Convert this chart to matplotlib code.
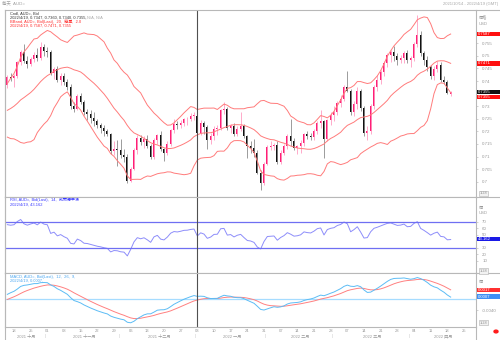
import numpy as np
import pandas as pd
import matplotlib
matplotlib.use("Agg")
import matplotlib.pyplot as plt
from matplotlib.patches import Rectangle, Circle
from matplotlib.lines import Line2D
from matplotlib.transforms import blended_transform_factory

plt.rcParams['font.family'] = ['Liberation Sans', 'Noto Sans CJK TC']

# AUD= daily bars, 2021/10/14 .. 2022/4/19
dates = pd.bdate_range('2021-10-14', '2022-04-19')
opens = [.7385, .7417, .7412, .7420, .7475, .7517, .7480, .7468, .7488, .7505,
         .7490, .7537, .7520, .7515, .7432, .7448, .7405, .7420, .7395, .7375,
         .7300, .7290, .7340, .7318, .7275, .7270, .7255, .7240, .7225, .7215,
         .7200, .7190, .7120, .7130, .7125, .7105, .7098, .7002, .7052, .7125,
         .7175, .7158, .7170, .7140, .7100, .7165, .7185, .7128, .7115, .7150,
         .7205, .7230, .7225, .7235, .7248, .7250, .7260, .7262, .7195, .7232,
         .7218, .7166, .7180, .7210, .7212, .7283, .7288, .7213, .7220, .7190,
         .7210, .7220, .7182, .7142, .7135, .7115, .7035, .6995, .7072, .7138,
         .7142, .7145, .7080, .7115, .7140, .7183, .7162, .7135, .7140, .7152,
         .7190, .7182, .7178, .7200, .7233, .7242, .7170, .7245, .7265, .7275,
         .7312, .7330, .7378, .7362, .7275, .7310, .7362, .7292, .7193, .7200,
         .7302, .7378, .7404, .7437, .7470, .7503, .7515, .7500, .7485, .7492,
         .7512, .7484, .7490, .7548, .7585, .7510, .7485, .7455, .7420, .7448,
         .7465, .7405, .7398, .7347]
highs = [.7425, .7432, .7428, .7480, .7522, .7546, .7500, .7495, .7515, .7530,
         .7556, .7546, .7535, .7525, .7455, .7460, .7430, .7430, .7410, .7390,
         .7318, .7348, .7352, .7325, .7290, .7285, .7275, .7250, .7235, .7225,
         .7210, .7195, .7160, .7165, .7170, .7130, .7110, .7060, .7135, .7185,
         .7187, .7180, .7185, .7150, .7175, .7190, .7200, .7135, .7160, .7210,
         .7250, .7240, .7245, .7255, .7258, .7272, .7277, .7277, .7245, .7240,
         .7225, .7195, .7220, .7225, .7290, .7316, .7295, .7230, .7232, .7220,
         .7277, .7230, .7185, .7160, .7170, .7125, .7045, .7080, .7145, .7160,
         .7155, .7160, .7125, .7150, .7190, .7250, .7175, .7145, .7165, .7195,
         .7200, .7195, .7210, .7240, .7285, .7245, .7250, .7275, .7300, .7320,
         .7345, .7385, .7441, .7370, .7320, .7375, .7370, .7300, .7220, .7310,
         .7385, .7425, .7445, .7478, .7510, .7525, .7540, .7510, .7505, .7520,
         .7525, .7500, .7555, .7661, .7600, .7520, .7500, .7465, .7460, .7480,
         .7475, .7420, .7405, .7360]
lows = [.7372, .7400, .7378, .7412, .7465, .7470, .7453, .7460, .7475, .7480,
        .7485, .7500, .7495, .7425, .7410, .7395, .7385, .7385, .7365, .7290,
        .7277, .7285, .7310, .7265, .7245, .7235, .7220, .7215, .7195, .7180,
        .7180, .7110, .7105, .7062, .7095, .7080, .6993, .6998, .7045, .7110,
        .7145, .7135, .7135, .7090, .7090, .7150, .7120, .7082, .7105, .7140,
        .7195, .7210, .7212, .7220, .7225, .7240, .7245, .7188, .7185, .7190,
        .7130, .7150, .7165, .7185, .7205, .7270, .7205, .7195, .7180, .7180,
        .7200, .7175, .7094, .7115, .7100, .7030, .6968, .6985, .7065, .7125,
        .7125, .7070, .7070, .7105, .7130, .7140, .7125, .7110, .7115, .7140,
        .7170, .7165, .7165, .7190, .7215, .7094, .7160, .7225, .7240, .7265,
        .7295, .7320, .7355, .7265, .7260, .7290, .7280, .7180, .7165, .7190,
        .7290, .7360, .7390, .7420, .7455, .7475, .7480, .7465, .7470, .7470,
        .7470, .7455, .7480, .7535, .7500, .7465, .7440, .7410, .7405, .7435,
        .7395, .7390, .7350, .7340]
closes = [.7417, .7412, .7420, .7475, .7517, .7480, .7468, .7488, .7505, .7490,
          .7537, .7520, .7515, .7432, .7448, .7405, .7420, .7395, .7375, .7300,
          .7290, .7340, .7318, .7275, .7270, .7255, .7240, .7225, .7215, .7200,
          .7190, .7120, .7130, .7125, .7105, .7098, .7002, .7052, .7125, .7175,
          .7158, .7170, .7140, .7100, .7165, .7185, .7128, .7115, .7150, .7205,
          .7230, .7225, .7235, .7248, .7250, .7260, .7265, .7195, .7232, .7218,
          .7166, .7180, .7210, .7212, .7283, .7288, .7213, .7220, .7190, .7210,
          .7220, .7182, .7142, .7135, .7115, .7035, .6995, .7072, .7138, .7142,
          .7145, .7080, .7115, .7140, .7183, .7162, .7135, .7140, .7152, .7190,
          .7182, .7178, .7200, .7233, .7242, .7170, .7245, .7265, .7275, .7312,
          .7330, .7378, .7362, .7275, .7310, .7362, .7292, .7193, .7200, .7302,
          .7378, .7404, .7437, .7470, .7503, .7515, .7500, .7485, .7492, .7512,
          .7484, .7490, .7548, .7585, .7510, .7485, .7455, .7420, .7448, .7465,
          .7405, .7398, .7352, .7355]
# closes before the window, needed to warm up the indicators
prior_closes = [.7355, .7385, .7390, .7390, .7345, .7340, .7330, .7350, .7345, .7345,
                .7330, .7245, .7215, .7150, .7130, .7180, .7240, .7265, .7250, .7300,
                .7300, .7310, .7340, .7375, .7435, .7430, .7390, .7380, .7380, .7360,
                .7345, .7335, .7330, .7300, .7265, .7240, .7245, .7245, .7295, .7265,
                .7290, .7250, .7180, .7230, .7265, .7300, .7275, .7255, .7290, .7300,
                .7340, .7340, .7385]

month_names = ['一月', '二月', '三月', '四月', '五月', '六月',
               '七月', '八月', '九月', '十月', '十一月', '十二月']
price_ticks = [0.70, 0.705, 0.71, 0.715, 0.72, 0.725, 0.73, 0.74, 0.745, 0.75, 0.755]
rsi_ticks = [10, 20, 30, 50, 60, 70]

# indicators
c = pd.Series(prior_closes + closes)
n0 = len(prior_closes)
mid = c.rolling(20).mean()
sd = c.rolling(20).std(ddof=0)
bb_up = (mid + 2 * sd).values[n0:]
bb_mid = mid.values[n0:]
bb_lo = (mid - 2 * sd).values[n0:]
d = c.diff()
g = d.clip(lower=0).ewm(alpha=1 / 14, adjust=False).mean()
l = (-d.clip(upper=0)).ewm(alpha=1 / 14, adjust=False).mean()
rsi = (100 - 100 / (1 + g / l)).values[n0:]
macd_s = c.ewm(span=12, adjust=False).mean() - c.ewm(span=26, adjust=False).mean()
sig_s = macd_s.ewm(span=9, adjust=False).mean()
macd = macd_s.values[n0:]
sig = sig_s.values[n0:]

W, H = 500, 340
fig = plt.figure(figsize=(5, 3.4), dpi=100)
fig.patch.set_facecolor('white')


def fx(x):
    return x / W


def fy(y):
    return 1 - y / H


def px_axes(x0, y0, x1, y1):
    return fig.add_axes([fx(x0), fy(y1), (x1 - x0) / W, (y1 - y0) / H])


X0, X1 = 5, 476
TOP, S1, S2, BOT = 9.5, 196.7, 273.3, 326.5
ax = px_axes(X0, TOP, X1, S1)
ax_r = px_axes(X0, S1, X1, S2)
ax_m = px_axes(X0, S2, X1, BOT)

x = np.arange(len(closes))
xlim = (-0.7, 140.6)
grey = '#9a9a9a'
for a in (ax, ax_r, ax_m):
    a.set_xlim(*xlim)
    a.set_xticks([])
    for s in a.spines.values():
        s.set_color('#b8b8b8')
        s.set_linewidth(0.8)
    a.yaxis.tick_right()
    a.tick_params(axis='y', length=1.5, width=0.4, color='#b0b0b0', labelsize=3.2,
                  labelcolor=grey, pad=3)

# candles
op = np.array(opens)
cl = np.array(closes)
up = cl >= op
up_c, dn_c = '#ff1f77', '#111111'
ax.vlines(x[up], np.array(lows)[up], np.array(highs)[up], color='#ff9cc2', lw=0.6)
ax.vlines(x[~up], np.array(lows)[~up], np.array(highs)[~up], color='#8c8c8c', lw=0.6)
body = np.maximum(np.abs(cl - op), 0.00025)
ax.bar(x, body, bottom=np.minimum(op, cl), width=0.62,
       color=np.where(up, up_c, dn_c), linewidth=0)

bb_col = '#ff7b7b'
for band in (bb_up, bb_mid, bb_lo):
    ax.plot(x, band, color=bb_col, lw=0.7)
ax.set_ylim(0.69402, 0.76844)
ax.set_yticks(price_ticks)
ax.set_yticklabels([f'{v:g}' for v in price_ticks])

# RSI
ax_r.plot(x, rsi, color='#8d8dfa', lw=0.7)
ax_r.axhline(70, color='#6f6ff2', lw=0.9)
ax_r.axhline(30, color='#6f6ff2', lw=0.9)
ax_r.set_ylim(-8.9, 108.5)
ax_r.set_yticks(rsi_ticks)
ax_r.set_yticklabels([str(v) for v in rsi_ticks])

# MACD
ax_m.axhline(0, color='#a6dcff', lw=0.9)
ax_m.plot(x, sig, color='#ff8080', lw=0.7)
ax_m.plot(x, macd, color='#5cbcf5', lw=0.7)
ax_m.set_ylim(-0.00965, 0.00898)
ax_m.set_yticks([-0.004])
ax_m.set_yticklabels(['-0.0040'])

# year divider on 2022/1/3
jan3 = int(np.where(dates == pd.Timestamp('2022-01-03'))[0][0])
for a in (ax, ax_r, ax_m):
    a.axvline(jan3, color='#505050', lw=0.8)

# date axis: Mondays and months
tr = blended_transform_factory(ax_m.transData, fig.transFigure)
all_days = pd.bdate_range(dates[0], '2022-04-29')
for i, dt in enumerate(all_days):
    if dt.weekday() == 0 and xlim[0] < i < xlim[1]:
        ax_m.text(i, fy(331.5), f'{dt.day:02d}', transform=tr, fontsize=3.0,
                  color=grey, ha='center', va='center')
month_starts = [i for i in range(1, len(all_days)) if all_days[i].month != all_days[i - 1].month]
bounds = [xlim[0]] + month_starts + [xlim[1]]
for k in range(len(bounds) - 1):
    a0, a1 = bounds[k], bounds[k + 1]
    dt = all_days[max(int(np.ceil(a0)), 0)]
    ax_m.text((a0 + a1) / 2, fy(336.5), f'{dt.year} {month_names[dt.month - 1]}', transform=tr,
              fontsize=3.0, color=grey, ha='center', va='center')
for i in month_starts:
    ax_m.text(i - 0.5, fy(336.5), '|', transform=tr, fontsize=3.0, color='#c0c0c0',
              ha='center', va='center')


# frame lines
def hline(y, x0, x1, col='#b8b8b8', lw=0.8):
    fig.add_artist(Line2D([fx(x0), fx(x1)], [fy(y), fy(y)], color=col, lw=lw))


def vline(xp, y0, y1, col='#b8b8b8', lw=0.8):
    fig.add_artist(Line2D([fx(xp), fx(xp)], [fy(y0), fy(y1)], color=col, lw=lw))


for yy in (TOP, S1, S2):
    hline(yy, X1, W)
vline(X0, TOP, H)
vline(X1, BOT, H)

# header
fig.text(fx(2), fy(4), '每天  AUD=', fontsize=3.2, color='#a0a0a0', va='center')
fig.text(fx(498), fy(4.5), '2021/10/14 - 2022/4/19 (GMT)', fontsize=3.0, color='#a8a8a8',
         ha='right', va='center')


def legend_line(xp, yp, parts):
    last = None
    for txt, col, bg in parts:
        kw = dict(fontsize=2.9, color=col, va='center', ha='left')
        if bg:
            kw['bbox'] = dict(boxstyle='square,pad=0.1', fc=bg, ec='none')
        if last is None:
            last = fig.text(fx(xp), fy(yp), txt, **kw)
        else:
            last = ax.annotate(txt, xy=(1, 0.5), xycoords=last, annotation_clip=False, **kw)


legend_line(9.5, 13.3, [('Cndl, AUD=, Bid', '#333333', None)])
legend_line(9.5, 17.4, [('2022/4/19, 0.7347, 0.7360, 0.7340, 0.7355, ', '#333333', None),
                        ('N/A, N/A', '#aaaaaa', None)])
legend_line(9.5, 21.6, [('BBand, AUD=, Bid(Last),  20,  簡單,  2.0', '#ff2a2a', None)])
legend_line(9.5, 25.7, [('2022/4/19, 0.7587, 0.7471, 0.7355', '#ff2a2a', None)])
legend_line(9.5, 200.3, [('RSI, AUD=, Bid(Last),  14,  威爾德平滑', '#3a3aff', None)])
legend_line(9.5, 204.5, [('2022/4/19, 43.162', '#3a3aff', None)])
legend_line(9.5, 276.8, [('MACD, AUD=, Bid(Last),  12,  26,  9,  ', '#49a6f0', None),
                         ('指數', 'white', '#6fb6ff')])
legend_line(9.5, 281, [('2022/4/19, 0.0007, ', '#49a6f0', None), ('0.0017', '#ff4a4a', None)])

# right-hand labels
for yy, txt in ((16.7, '價格'), (24, 'USD'), (207.8, '價'), (212.5, 'USD'), (281.7, '價')):
    fig.text(fx(479), fy(yy), txt, fontsize=3.0, color=grey, va='center')


def value_box(yc, txt, fc):
    fig.add_artist(Rectangle((fx(X1 + 0.5), fy(yc + 2.3)), (W - X1) / W, 4.6 / H,
                             fc=fc, ec='none', transform=fig.transFigure))
    fig.text(fx(X1 + 2), fy(yc), txt, fontsize=3.1, color='white', va='center')


value_box(34.0, '0.7587', '#ff1010')
value_box(63.2, '0.7471', '#ff1010')
value_box(92.0, '0.7355', '#111111')
value_box(97.0, '0.7355', '#ff1010')
value_box(239.1, '43.162', '#1a1ae6')
value_box(290.0, '0.0017', '#ff3030')
value_box(296.7, '0.0007', '#3f8ff5')

for yy in (193.3, 271, 322.7):
    fig.text(fx(480), fy(yy), '1:28', fontsize=2.8, color='#909090', va='center',
             bbox=dict(boxstyle='square,pad=0.15', fc='#f2f2f2', ec='#b0b0b0', lw=0.4))

fig.add_artist(Circle((fx(496), fy(331.5)), 2.0 / W, color='#ff1a1a', transform=fig.transFigure))

fig.savefig('out.png', dpi=100)
